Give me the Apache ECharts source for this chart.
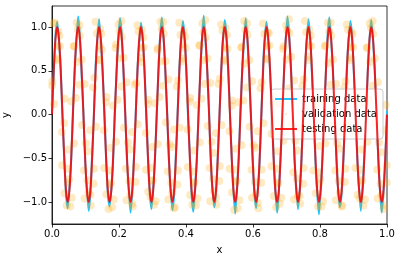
<!DOCTYPE html>
<html><head><meta charset="utf-8">
<script src="https://cdn.jsdelivr.net/npm/echarts@6/dist/echarts.min.js"></script>
<style>html,body{margin:0;padding:0;background:#fff}#c{width:402px;height:262px}</style>
</head><body><div id="c"></div>
<script>
var xs = [
0,.0052,.0104,.0156,.0208,.026,.0313,.0365,.0417,.0469,.0521,.0573,
.0625,.0677,.0729,.0781,.0833,.0885,.0938,.099,.1042,.1094,.1146,.1198,
.125,.1302,.1354,.1406,.1458,.151,.1563,.1615,.1667,.1719,.1771,.1823,
.1875,.1927,.1979,.2031,.2083,.2135,.2188,.224,.2292,.2344,.2396,.2448,
.25,.2552,.2604,.2656,.2708,.276,.2813,.2865,.2917,.2969,.3021,.3073,
.3125,.3177,.3229,.3281,.3333,.3385,.3438,.349,.3542,.3594,.3646,.3698,
.375,.3802,.3854,.3906,.3958,.401,.4063,.4115,.4167,.4219,.4271,.4323,
.4375,.4427,.4479,.4531,.4583,.4635,.4688,.474,.4792,.4844,.4896,.4948,
.5,.5052,.5104,.5156,.5208,.526,.5313,.5365,.5417,.5469,.5521,.5573,
.5625,.5677,.5729,.5781,.5833,.5885,.5938,.599,.6042,.6094,.6146,.6198,
.625,.6302,.6354,.6406,.6458,.651,.6563,.6615,.6667,.6719,.6771,.6823,
.6875,.6927,.6979,.7031,.7083,.7135,.7188,.724,.7292,.7344,.7396,.7448,
.75,.7552,.7604,.7656,.7708,.776,.7813,.7865,.7917,.7969,.8021,.8073,
.8125,.8177,.8229,.8281,.8333,.8385,.8438,.849,.8542,.8594,.8646,.8698,
.875,.8802,.8854,.8906,.8958,.901,.9063,.9115,.9167,.9219,.9271,.9323,
.9375,.9427,.9479,.9531,.9583,.9635,.9688,.974,.9792,.9844,.9896,.9948,
1.0];

var trainingY = [
0.02,0.47,0.90,1.06,0.84,0.53,-0.04,-0.46,-0.90,-1.07,-0.83,-0.52,
0.04,0.52,0.84,1.12,0.89,0.45,0.03,-0.53,-0.84,-1.10,-0.90,-0.46,
-0.03,0.55,0.88,1.09,0.82,0.51,0.05,-0.48,-0.91,-1.05,-0.85,-0.54,
0.05,0.46,0.87,1.10,0.91,0.47,-0.02,-0.54,-0.83,-1.12,-0.88,-0.47,
0.01,0.53,0.82,1.05,0.88,0.54,0.04,-0.47,-0.89,-1.08,-0.84,-0.51,
-0.04,0.49,0.91,1.11,0.85,0.46,0.02,-0.52,-0.87,-1.09,-0.91,-0.45,
0.03,0.54,0.85,1.07,0.90,0.52,-0.05,-0.45,-0.92,-1.11,-0.82,-0.53,
0.02,0.45,0.89,1.13,0.83,0.49,0.06,-0.55,-0.85,-1.06,-0.89,-0.48,
-0.02,0.51,0.86,1.08,0.92,0.55,0.01,-0.49,-0.88,-1.13,-0.86,-0.50,
0.05,0.48,0.83,1.10,0.86,0.44,-0.03,-0.53,-0.91,-1.07,-0.84,-0.55,
0.00,0.56,0.90,1.06,0.81,0.50,0.04,-0.46,-0.86,-1.12,-0.90,-0.47,
-0.03,0.47,0.88,1.12,0.89,0.53,0.02,-0.51,-0.83,-1.08,-0.87,-0.52,
0.04,0.52,0.84,1.09,0.87,0.46,-0.04,-0.54,-0.90,-1.14,-0.85,-0.49,
0.01,0.49,0.92,1.11,0.84,0.52,0.05,-0.47,-0.87,-1.06,-0.91,-0.53,
-0.02,0.54,0.85,1.07,0.90,0.48,0.00,-0.52,-0.84,-1.10,-0.83,-0.46,
0.03,0.50,0.87,1.08,0.85,0.51,-0.03,-0.49,-0.89,-1.12,-0.88,-0.51,
0.04];

var testingY = [
0,0.5,0.866,1,0.866,0.5,0,-0.5,-0.866,-1,-0.866,-0.5,
0,0.5,0.866,1,0.866,0.5,0,-0.5,-0.866,-1,-0.866,-0.5,
0,0.5,0.866,1,0.866,0.5,0,-0.5,-0.866,-1,-0.866,-0.5,
0,0.5,0.866,1,0.866,0.5,0,-0.5,-0.866,-1,-0.866,-0.5,
0,0.5,0.866,1,0.866,0.5,0,-0.5,-0.866,-1,-0.866,-0.5,
0,0.5,0.866,1,0.866,0.5,0,-0.5,-0.866,-1,-0.866,-0.5,
0,0.5,0.866,1,0.866,0.5,0,-0.5,-0.866,-1,-0.866,-0.5,
0,0.5,0.866,1,0.866,0.5,0,-0.5,-0.866,-1,-0.866,-0.5,
0,0.5,0.866,1,0.866,0.5,0,-0.5,-0.866,-1,-0.866,-0.5,
0,0.5,0.866,1,0.866,0.5,0,-0.5,-0.866,-1,-0.866,-0.5,
0,0.5,0.866,1,0.866,0.5,0,-0.5,-0.866,-1,-0.866,-0.5,
0,0.5,0.866,1,0.866,0.5,0,-0.5,-0.866,-1,-0.866,-0.5,
0,0.5,0.866,1,0.866,0.5,0,-0.5,-0.866,-1,-0.866,-0.5,
0,0.5,0.866,1,0.866,0.5,0,-0.5,-0.866,-1,-0.866,-0.5,
0,0.5,0.866,1,0.866,0.5,0,-0.5,-0.866,-1,-0.866,-0.5,
0,0.5,0.866,1,0.866,0.5,0,-0.5,-0.866,-1,-0.866,-0.5,
0];

var validationX1 = [
.006,.0012,.0184,.0086,.0238,.017,.0363,.0305,.0507,.0439,.0591,.0493,
.0575,.0747,.0649,.0821,.0773,.0975,.0898,.107,.0972,.1144,.1056,.1258,
.131,.1262,.1434,.1336,.1488,.142,.1613,.1555,.1757,.1689,.1841,.1743,
.1825,.1997,.1899,.2071,.2023,.2225,.2148,.232,.2222,.2394,.2306,.2508,
.256,.2512,.2684,.2586,.2738,.267,.2863,.2805,.3007,.2939,.3091,.2993,
.3075,.3247,.3149,.3321,.3273,.3475,.3398,.357,.3472,.3644,.3556,.3758,
.381,.3762,.3934,.3836,.3988,.392,.4113,.4055,.4257,.4189,.4341,.4243,
.4325,.4497,.4399,.4571,.4523,.4725,.4648,.482,.4722,.4894,.4806,.5008,
.506,.5012,.5184,.5086,.5238,.517,.5363,.5305,.5507,.5439,.5591,.5493,
.5575,.5747,.5649,.5821,.5773,.5975,.5898,.607,.5972,.6144,.6056,.6258,
.631,.6262,.6434,.6336,.6488,.642,.6613,.6555,.6757,.6689,.6841,.6743,
.6825,.6997,.6899,.7071,.7023,.7225,.7148,.732,.7222,.7394,.7306,.7508,
.756,.7512,.7684,.7586,.7738,.767,.7863,.7805,.8007,.7939,.8091,.7993,
.8075,.8247,.8149,.8321,.8273,.8475,.8398,.857,.8472,.8644,.8556,.8758,
.881,.8762,.8934,.8836,.8988,.892,.9113,.9055,.9257,.9189,.9341,.9243,
.9325,.9497,.9399,.9571,.9523,.9725,.9648,.982,.9722,.9894,.9806,.9992,
.996];

var validationY1 = [
0.12,0.38,0.95,1.05,0.78,0.62,-0.10,-0.58,-0.74,-1.04,-0.95,-0.40,
0.15,0.60,0.78,1.02,0.97,0.35,-0.12,-0.42,-0.96,-0.92,-0.75,-0.62,
-0.14,0.42,0.98,0.93,0.74,0.63,0.14,-0.61,-0.78,-1.08,-0.97,-0.38,
0.10,0.64,0.76,1.07,0.95,0.37,-0.15,-0.40,-0.98,-1.02,-0.76,-0.60,
-0.11,0.36,0.97,0.95,0.77,0.60,0.12,-0.63,-0.75,-0.94,-0.99,-0.37,
0.13,0.61,0.74,1.06,0.98,0.40,-0.09,-0.37,-0.97,-1.07,-0.78,-0.64,
-0.15,0.39,0.96,0.91,0.76,0.64,0.15,-0.60,-0.77,-1.03,-0.96,-0.41,
0.11,0.62,0.79,1.08,0.94,0.36,-0.13,-0.44,-0.99,-0.95,-0.74,-0.59,
-0.12,0.41,0.99,0.96,0.75,0.61,0.10,-0.62,-0.76,-1.09,-0.98,-0.39,
0.14,0.58,0.77,1.04,0.97,0.38,-0.14,-0.38,-0.95,-1.01,-0.77,-0.63,
-0.10,0.37,0.94,0.92,0.79,0.63,0.13,-0.59,-0.79,-1.06,-0.95,-0.42,
0.12,0.63,0.75,1.09,0.96,0.39,-0.11,-0.41,-0.97,-0.93,-0.73,-0.61,
-0.13,0.40,0.97,0.94,0.78,0.62,0.11,-0.64,-0.74,-1.05,-0.99,-0.36,
0.15,0.59,0.78,1.05,0.95,0.35,-0.12,-0.39,-0.98,-1.04,-0.76,-0.62,
-0.11,0.38,0.95,0.97,0.77,0.65,0.14,-0.61,-0.75,-0.96,-0.97,-0.40,
0.13,0.60,0.76,1.07,0.99,0.37,-0.10,-0.43,-0.96,-1.08,-0.79,-0.58,
0.11];

var validationX2 = [
.0005,.0148,.005,.0222,.0174,.0376,.0299,.0471,.0373,.0545,.0457,.0659,
.0711,.0663,.0835,.0737,.0889,.0821,.1014,.0956,.1158,.109,.1242,.1144,
.1226,.1398,.13,.1472,.1424,.1626,.1549,.1721,.1623,.1795,.1707,.1909,
.1961,.1913,.2085,.1987,.2139,.2071,.2264,.2206,.2408,.234,.2492,.2394,
.2476,.2648,.255,.2722,.2674,.2876,.2799,.2971,.2873,.3045,.2957,.3159,
.3211,.3163,.3335,.3237,.3389,.3321,.3514,.3456,.3658,.359,.3742,.3644,
.3726,.3898,.38,.3972,.3924,.4126,.4049,.4221,.4123,.4295,.4207,.4409,
.4461,.4413,.4585,.4487,.4639,.4571,.4764,.4706,.4908,.484,.4992,.4894,
.4976,.5148,.505,.5222,.5174,.5376,.5299,.5471,.5373,.5545,.5457,.5659,
.5711,.5663,.5835,.5737,.5889,.5821,.6014,.5956,.6158,.609,.6242,.6144,
.6226,.6398,.63,.6472,.6424,.6626,.6549,.6721,.6623,.6795,.6707,.6909,
.6961,.6913,.7085,.6987,.7139,.7071,.7264,.7206,.7408,.734,.7492,.7394,
.7476,.7648,.755,.7722,.7674,.7876,.7799,.7971,.7873,.8045,.7957,.8159,
.8211,.8163,.8335,.8237,.8389,.8321,.8514,.8456,.8658,.859,.8742,.8644,
.8726,.8898,.88,.8972,.8924,.9126,.9049,.9221,.9123,.9295,.9207,.9409,
.9461,.9413,.9585,.9487,.9639,.9571,.9764,.9706,.9908,.984,.9992,.9894];

var validationY2 = [
0.33,0.64,1.04,0.90,0.78,0.18,-0.20,-0.78,-0.90,-1.05,-0.62,-0.33,
0.19,0.78,0.90,1.05,0.63,0.34,-0.33,-0.64,-1.04,-0.89,-0.79,-0.18,
0.31,0.62,1.06,0.92,0.79,0.20,-0.18,-0.80,-0.91,-1.06,-0.64,-0.31,
0.17,0.80,0.89,1.03,0.65,0.32,-0.32,-0.62,-1.05,-0.92,-0.77,-0.20,
0.34,0.65,1.02,0.88,0.76,0.17,-0.21,-0.76,-0.88,-1.03,-0.61,-0.34,
0.20,0.76,0.92,1.06,0.61,0.33,-0.34,-0.65,-1.06,-0.90,-0.80,-0.17,
0.32,0.61,1.05,0.89,0.80,0.19,-0.17,-0.79,-0.92,-1.04,-0.65,-0.32,
0.18,0.79,0.88,1.04,0.64,0.35,-0.31,-0.61,-1.03,-0.88,-0.76,-0.21,
0.35,0.63,1.03,0.91,0.77,0.16,-0.19,-0.77,-0.89,-1.07,-0.63,-0.35,
0.16,0.77,0.91,1.07,0.62,0.31,-0.35,-0.63,-1.07,-0.91,-0.78,-0.19,
0.30,0.64,1.04,0.93,0.78,0.21,-0.22,-0.78,-0.93,-1.02,-0.62,-0.30,
0.21,0.78,0.93,1.02,0.66,0.30,-0.30,-0.66,-1.02,-0.93,-0.79,-0.16,
0.33,0.66,1.07,0.90,0.79,0.18,-0.16,-0.79,-0.90,-1.05,-0.66,-0.33,
0.19,0.79,0.90,1.05,0.63,0.34,-0.33,-0.64,-1.05,-0.89,-0.77,-0.20,
0.31,0.62,1.03,0.92,0.77,0.20,-0.20,-0.77,-0.92,-1.04,-0.63,-0.31,
0.17,0.77,0.92,1.04,0.64,0.33,-0.32,-0.63,-1.04,-0.92,-0.78,-0.18];

var xTicks = [0, 0.2, 0.4, 0.6, 0.8, 1.0];
var yTicks = [-1, -0.5, 0, 0.5, 1];
var seriesNames = ['training data', 'validation data', 'testing data'];

function pairs(xv, ys){ return xv.map(function(x,i){ return [x, ys[i]]; }); }
function fmt(v){ return v.toFixed(1).replace('-', '\u2212'); }

var font = 'DejaVu Sans';
var cyan = '#1ec3ff';
var red = 'rgba(255,0,0,0.85)';
var orange = 'rgba(255,165,0,0.3)';
var chart = echarts.init(document.getElementById('c'), null, {renderer:'canvas'});
chart.setOption({
  animation: false,
  backgroundColor: '#fff',
  textStyle: {fontFamily: font},
  grid: {left: 52, right: 15, top: 6, bottom: 38, outerBoundsMode: 'none', containLabel: false,
         show: true, borderColor: '#000', borderWidth: 0.8, backgroundColor: 'transparent'},
  legend: {
    orient: 'vertical', right: 19, top: 89,
    data: [
      {name: seriesNames[0], icon: 'rect', itemStyle: {color: cyan}},
      {name: seriesNames[1], icon: 'circle', itemStyle: {color: orange}},
      {name: seriesNames[2], icon: 'rect', itemStyle: {color: red}}
    ],
    itemWidth: 22, itemHeight: 2, itemGap: 5,
    padding: [5, 6, 5, 4],
    backgroundColor: 'rgba(255,255,255,0.8)', borderColor: '#cccccc', borderWidth: 1, borderRadius: 3,
    textStyle: {fontFamily: font, fontSize: 10, color: '#000'}
  },
  xAxis: {
    type: 'value', min: 0, max: 1, interval: 0.2,
    name: 'x', nameLocation: 'middle', nameGap: 21,
    nameTextStyle: {fontFamily: font, fontSize: 10, color: '#000'},
    axisLine: {show: true, onZero: false, lineStyle: {color: '#000', width: 0.8}},
    axisTick: {show: true, length: 3.5, lineStyle: {color: '#000', width: 0.8}, customValues: xTicks},
    axisLabel: {fontFamily: font, fontSize: 10, color: '#000', margin: 5, formatter: fmt, customValues: xTicks},
    splitLine: {show: false}
  },
  yAxis: {
    type: 'value', min: -1.25, max: 1.24,
    name: 'y', nameLocation: 'middle', nameGap: 38,
    nameTextStyle: {fontFamily: font, fontSize: 10, color: '#000'},
    axisLine: {show: true, onZero: false, lineStyle: {color: '#000', width: 0.8}},
    axisTick: {show: true, length: 3.5, lineStyle: {color: '#000', width: 0.8}, customValues: yTicks},
    axisLabel: {fontFamily: font, fontSize: 10, color: '#000', margin: 5, formatter: fmt, customValues: yTicks},
    splitLine: {show: false}
  },
  series: [
    {name: seriesNames[0], type: 'line', data: pairs(xs, trainingY), symbol: 'none', smooth: 0.2,
     lineStyle: {color: cyan, width: 2}, itemStyle: {color: cyan}, z: 2},
    {name: seriesNames[1], type: 'scatter',
     data: pairs(validationX1, validationY1).concat(pairs(validationX2, validationY2)),
     symbol: 'circle', symbolSize: 8, itemStyle: {color: orange}, z: 3},
    {name: seriesNames[2], type: 'line', data: pairs(xs, testingY), symbol: 'none', smooth: 0.35,
     lineStyle: {color: red, width: 2}, itemStyle: {color: red}, z: 4}
  ]
});
</script></body></html>
